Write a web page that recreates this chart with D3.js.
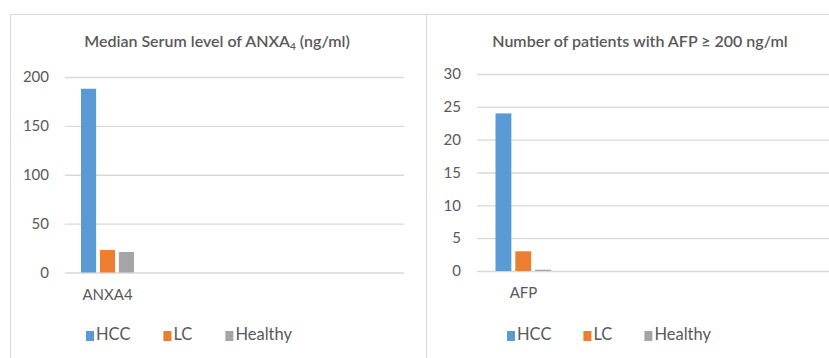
<!DOCTYPE html>
<html>
<head>
<meta charset="utf-8">
<script src="https://cdn.jsdelivr.net/npm/d3@7"></script>
<style>
  html, body { margin: 0; padding: 0; background: #fff; }
  svg { display: block; font-family: Lato, "Open Sans", sans-serif; }
</style>
</head>
<body>
<svg id="chart" width="829" height="358"></svg>
<script>
// Series shared by both panels
const seriesNames = ["HCC", "LC", "Healthy"];
const seriesColors = ["#5b9bd5", "#ed7d31", "#a5a5a5"];

// Panel 1: median serum ANXA4 (ng/ml)
const anxaCategories = ["ANXA4"];
const anxaValues = [188, 23, 21];
const anxaTicks = [0, 50, 100, 150, 200];

// Panel 2: patients with AFP >= 200 ng/ml
const afpCategories = ["AFP"];
const afpValues = [24, 3, 0.2];
const afpTicks = [0, 5, 10, 15, 20, 25, 30];

const svg = d3.select("#chart");
const textColor = "#595959";
const gridColor = "#d9d9d9";

// Outer frames of the two chart areas
svg.append("line").attr("x1", 10.5).attr("x2", 829).attr("y1", 14.5).attr("y2", 14.5)
  .attr("stroke", gridColor);
svg.append("line").attr("x1", 10.5).attr("x2", 10.5).attr("y1", 14.5).attr("y2", 358)
  .attr("stroke", gridColor);
svg.append("line").attr("x1", 426.5).attr("x2", 426.5).attr("y1", 14.5).attr("y2", 358)
  .attr("stroke", gridColor);

function drawPanel(p) {
  const g = svg.append("g");

  const y = d3.scaleLinear().domain([0, d3.max(p.ticks)]).range([p.y0, p.y1]);
  const x = d3.scaleBand().domain(p.categories).range([p.gx0, p.gx0 + p.band]);
  const xs = d3.scaleBand().domain(seriesNames)
    .range([p.barX0, p.barX1]).paddingInner(0.2);

  // Gridlines and value labels
  const yAxis = d3.axisLeft(y).tickValues(p.ticks).tickSize(-(p.gx1 - p.gx0)).tickPadding(16)
    .tickFormat(d3.format("d"));
  const ya = g.append("g").attr("transform", `translate(${p.gx0},0)`).call(yAxis);
  ya.select(".domain").remove();
  ya.selectAll(".tick line").attr("stroke", gridColor).attr("stroke-width", 1.3);
  ya.selectAll(".tick text").attr("fill", textColor)
    .attr("font-size", 15).attr("font-family", "Lato, sans-serif");

  // Bars
  p.categories.forEach(cat => {
    g.selectAll(null).data(p.values).join("rect")
      .attr("x", (d, i) => xs(seriesNames[i]))
      .attr("width", xs.bandwidth())
      .attr("y", d => y(d))
      .attr("height", d => y(0) - y(d))
      .attr("fill", (d, i) => seriesColors[i]);
    // category label
    g.append("text").attr("x", x(cat) + x.bandwidth() / 2).attr("y", p.catY)
      .attr("text-anchor", "middle").attr("dominant-baseline", "middle")
      .attr("fill", textColor).attr("font-size", 15).text(cat);
  });

  // Title
  const t = g.append("text").attr("x", p.titleX).attr("y", p.titleY)
    .attr("text-anchor", "middle").attr("dominant-baseline", "middle")
    .attr("fill", textColor).attr("font-size", 16).attr("font-weight", 600);
  p.title.forEach(part => {
    const ts = t.append("tspan").text(part.text);
    if (part.sub) ts.attr("font-size", 10).attr("dy", 4);
    else if (part.after) ts.attr("dy", -4);
  });

  // Legend
  let lx = p.legendX;
  seriesNames.forEach((name, i) => {
    g.append("rect").attr("x", lx).attr("y", p.legendY - 5).attr("width", 8).attr("height", 10)
      .attr("fill", seriesColors[i]);
    const txt = g.append("text").attr("x", lx + 10).attr("y", p.legendY)
      .attr("dominant-baseline", "middle").attr("fill", textColor)
      .attr("font-size", 16.5).text(name);
    lx += 10 + txt.node().getComputedTextLength() + p.legendGap;
  });
}

drawPanel({
  categories: anxaCategories, values: anxaValues, ticks: anxaTicks,
  y0: 272.5, y1: 77, gx0: 65, gx1: 404, band: 85, barX0: 81, barX1: 134,
  catY: 296, titleX: 217, titleY: 43,
  title: [{text: "Median Serum level of ANXA"}, {text: "4", sub: true}, {text: " (ng/ml)", after: true}],
  legendX: 86, legendY: 336, legendGap: 33
});

drawPanel({
  categories: afpCategories, values: afpValues, ticks: afpTicks,
  y0: 271, y1: 74, gx0: 477, gx1: 829, band: 93, barX0: 495.5, barX1: 551,
  catY: 294, titleX: 640, titleY: 43,
  title: [{text: "Number of patients with AFP ≥ 200 ng/ml"}],
  legendX: 507, legendY: 336, legendGap: 32
});
</script>
</body>
</html>
